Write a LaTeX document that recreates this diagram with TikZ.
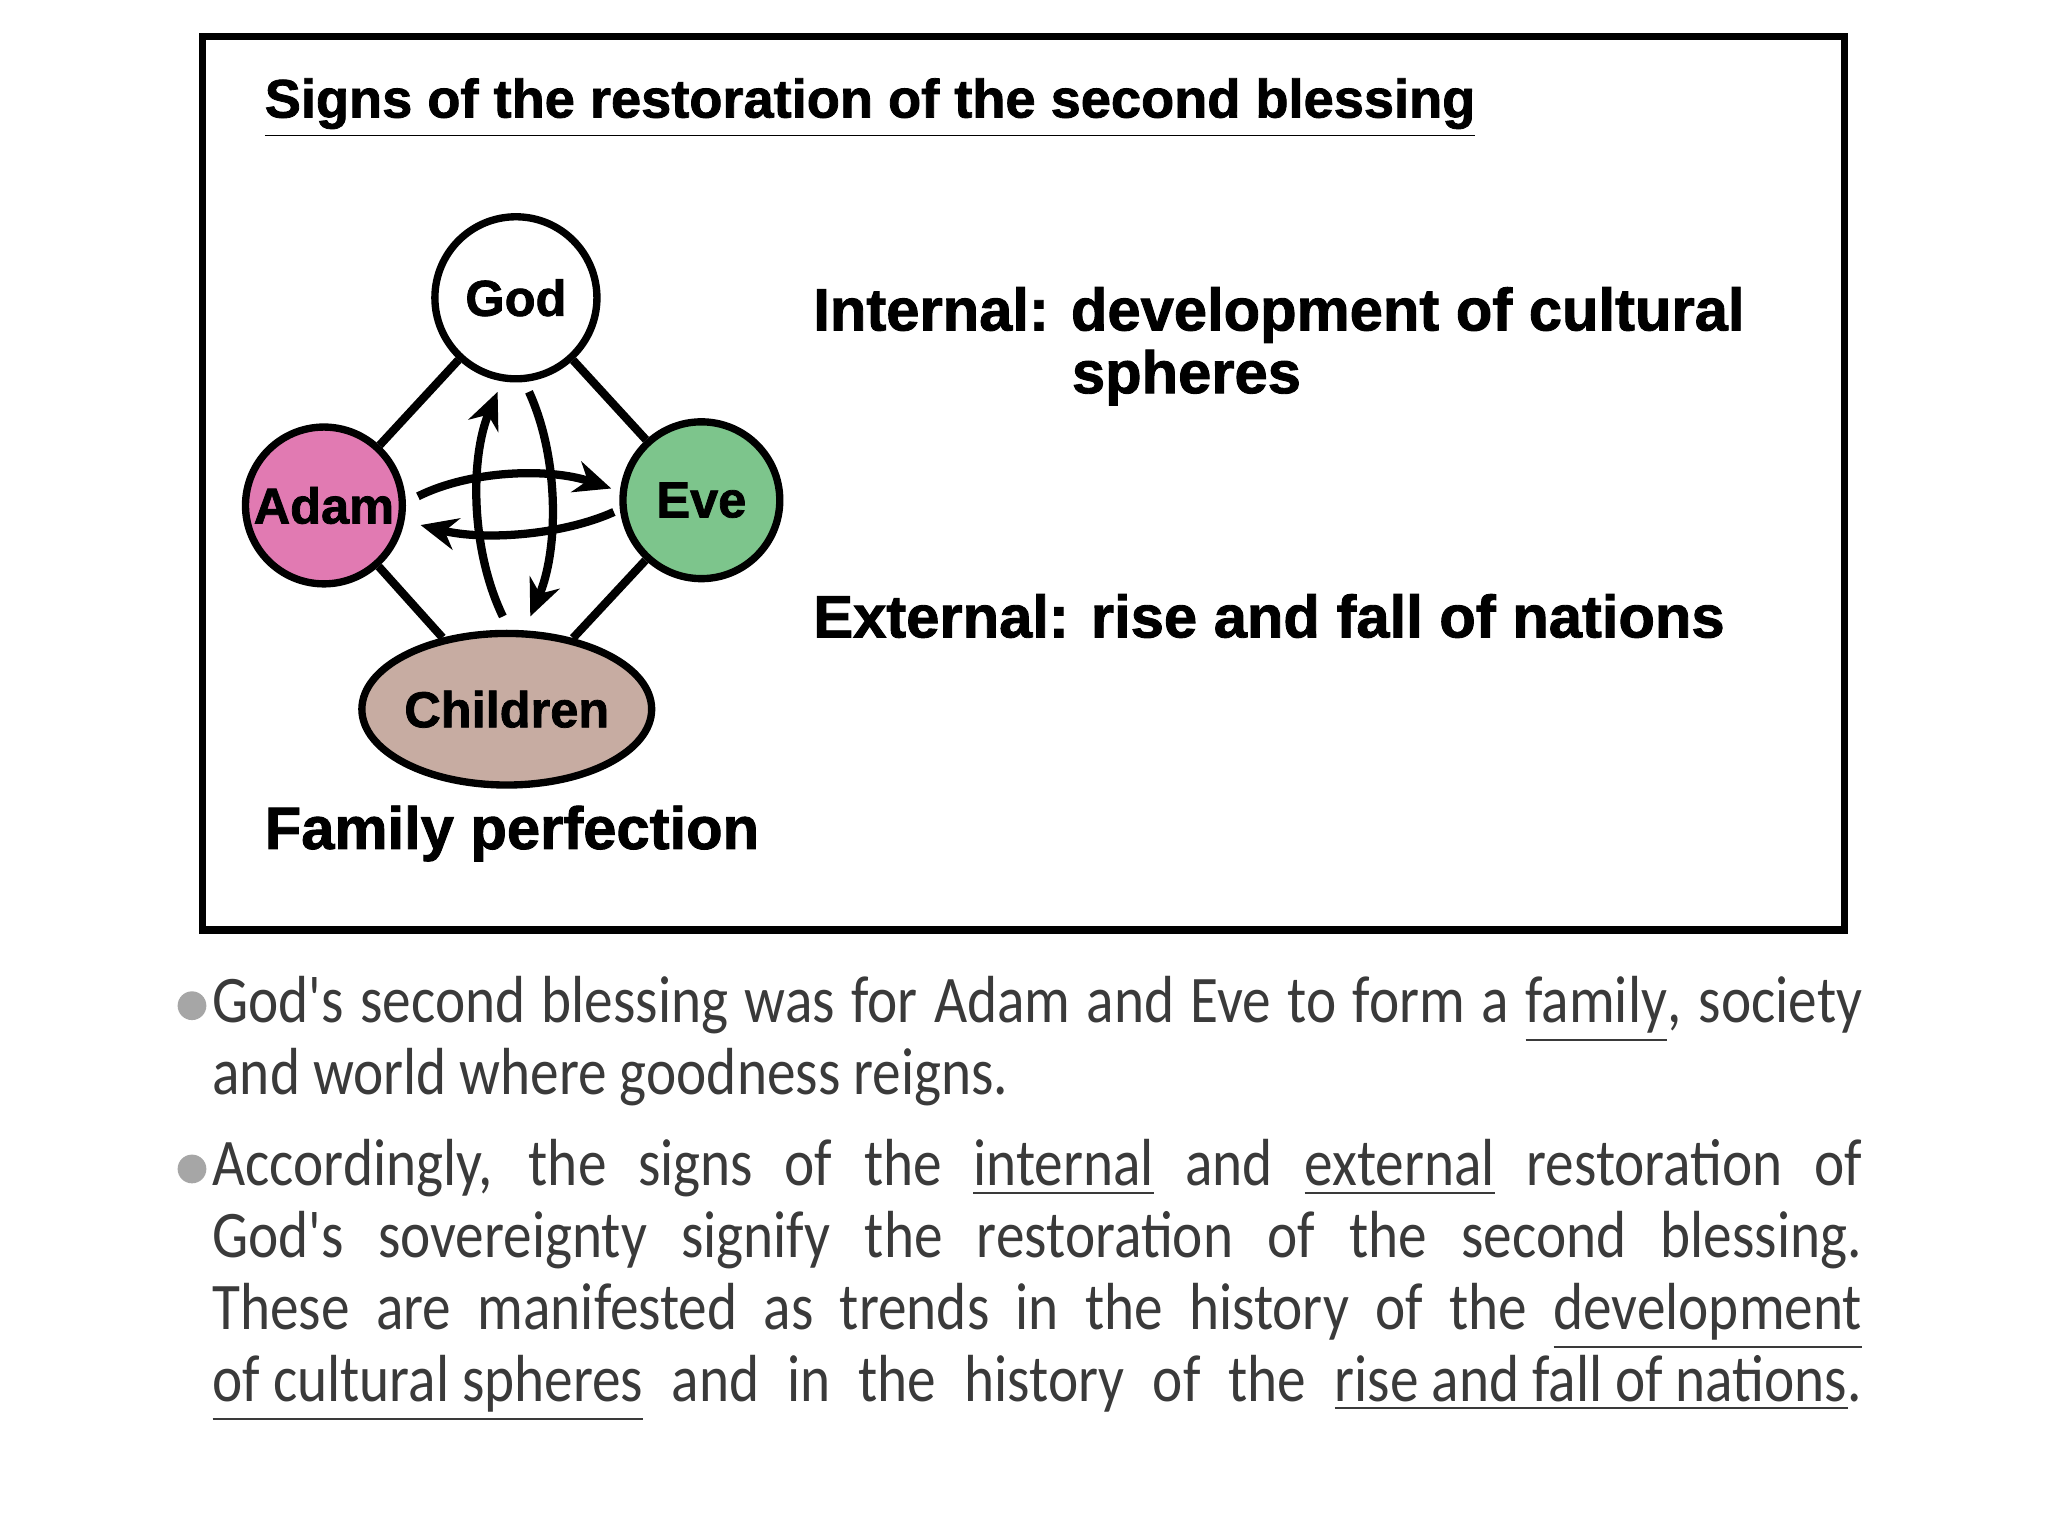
\documentclass[tikz,border=0pt]{standalone}
\usepackage{fontspec}
\setmainfont{Liberation Sans}
\newfontfamily\bodyfont[FakeStretch=0.86]{Carlito}
\newfontfamily\headfont[FakeBold=1.5]{Liberation Sans Bold}
\usetikzlibrary{arrows.meta,shapes.geometric}
\definecolor{adampink}{HTML}{E17AB2}
\definecolor{evegreen}{HTML}{7DC58C}
\definecolor{childtaupe}{HTML}{C7ACA2}
\definecolor{bodygray}{HTML}{3A3A3A}
\begin{document}
\begin{tikzpicture}[x=0.01cm,y=-0.01cm,
		person/.style={circle, draw, line width=1.6pt, minimum size=1.2cm, inner sep=0, font=\headfont\fontsize{11}{13}\selectfont},
		link/.style={line width=1.8pt},
		flow/.style={line width=1.8pt, -{Stealth[length=8pt,width=7pt]}},
		heading/.style={anchor=base west, inner sep=0, font=\headfont\fontsize{13}{15}\selectfont},
		bodyline/.style={anchor=base west, inner sep=0, text=bodygray, font=\bodyfont\fontsize{14.5}{17}\selectfont},
	]
	\useasboundingbox (0,0) rectangle (1568,1176);
	\fill[white] (0,0) rectangle (1568,1176);
	\draw[line width=1.6pt] (155,28) rectangle (1412,712);
	% diagram
	\node[heading, font=\headfont\fontsize{11.8}{14}\selectfont] (title) at (202,90) {\underline{Signs of the restoration of the second blessing}};
	\node[person, fill=white, minimum size=1.24cm] (god) at (395,228) {God};
	\node[person, fill=adampink] (adam) at (248,387) {Adam};
	\node[person, fill=evegreen] (eve) at (537,383) {Eve};
	\node[person, ellipse, fill=childtaupe, minimum width=1.84cm, minimum height=1.16cm] (children) at (388,543) {Children};
	\draw[link] (god) -- (adam);
	\draw[link] (god) -- (eve);
	\draw[link] (adam) -- (children);
	\draw[link] (eve) -- (children);
	\coordinate (up1) at (385,472);
	\coordinate (up2) at (381,300);
	\coordinate (dn1) at (405,300);
	\coordinate (dn2) at (406,472);
	\coordinate (rt1) at (320,380);
	\coordinate (rt2) at (468,374);
	\coordinate (lt1) at (470,392);
	\coordinate (lt2) at (322,402);
	\draw[flow] (up1) .. controls (360,420) and (360,350) .. (up2);
	\draw[flow] (dn1) .. controls (428,350) and (428,420) .. (dn2);
	\draw[flow] (rt1) .. controls (360,360) and (420,358) .. (rt2);
	\draw[flow] (lt1) .. controls (430,410) and (370,414) .. (lt2);
	\node[heading] (family) at (202,650) {Family perfection};
	\node[heading] (internal) at (622,253) {Internal: development of cultural};
	\node[heading] (spheres) at (820,301) {spheres};
	\node[heading] (external) at (622,488) {External: rise and fall of nations};
	% bullets
	\fill[gray!70] (147,770) circle (11);
	\fill[gray!70] (147,895) circle (11);
	\node[bodyline] (b1) at (162,783) {\makebox[1263\dimexpr0.01cm\relax][s]{God's second blessing was for Adam and Eve to form a \underline{family}, society}};
	\node[bodyline] (b2) at (162,838) {and world where goodness reigns.};
	\node[bodyline] (b3) at (162,908) {\makebox[1263\dimexpr0.01cm\relax][s]{Accordingly, the signs of the \underline{internal} and \underline{external} restoration of}};
	\node[bodyline] (b4) at (162,963) {\makebox[1263\dimexpr0.01cm\relax][s]{God's sovereignty signify the restoration of the second blessing.}};
	\node[bodyline] (b5) at (162,1018) {\makebox[1263\dimexpr0.01cm\relax][s]{These are manifested as trends in the history of the \underline{development}}};
	\node[bodyline] (b6) at (162,1073) {\makebox[1263\dimexpr0.01cm\relax][s]{\underline{of cultural spheres} and in the history of the \underline{rise and fall of nations}.}};
\end{tikzpicture}
\end{document}
